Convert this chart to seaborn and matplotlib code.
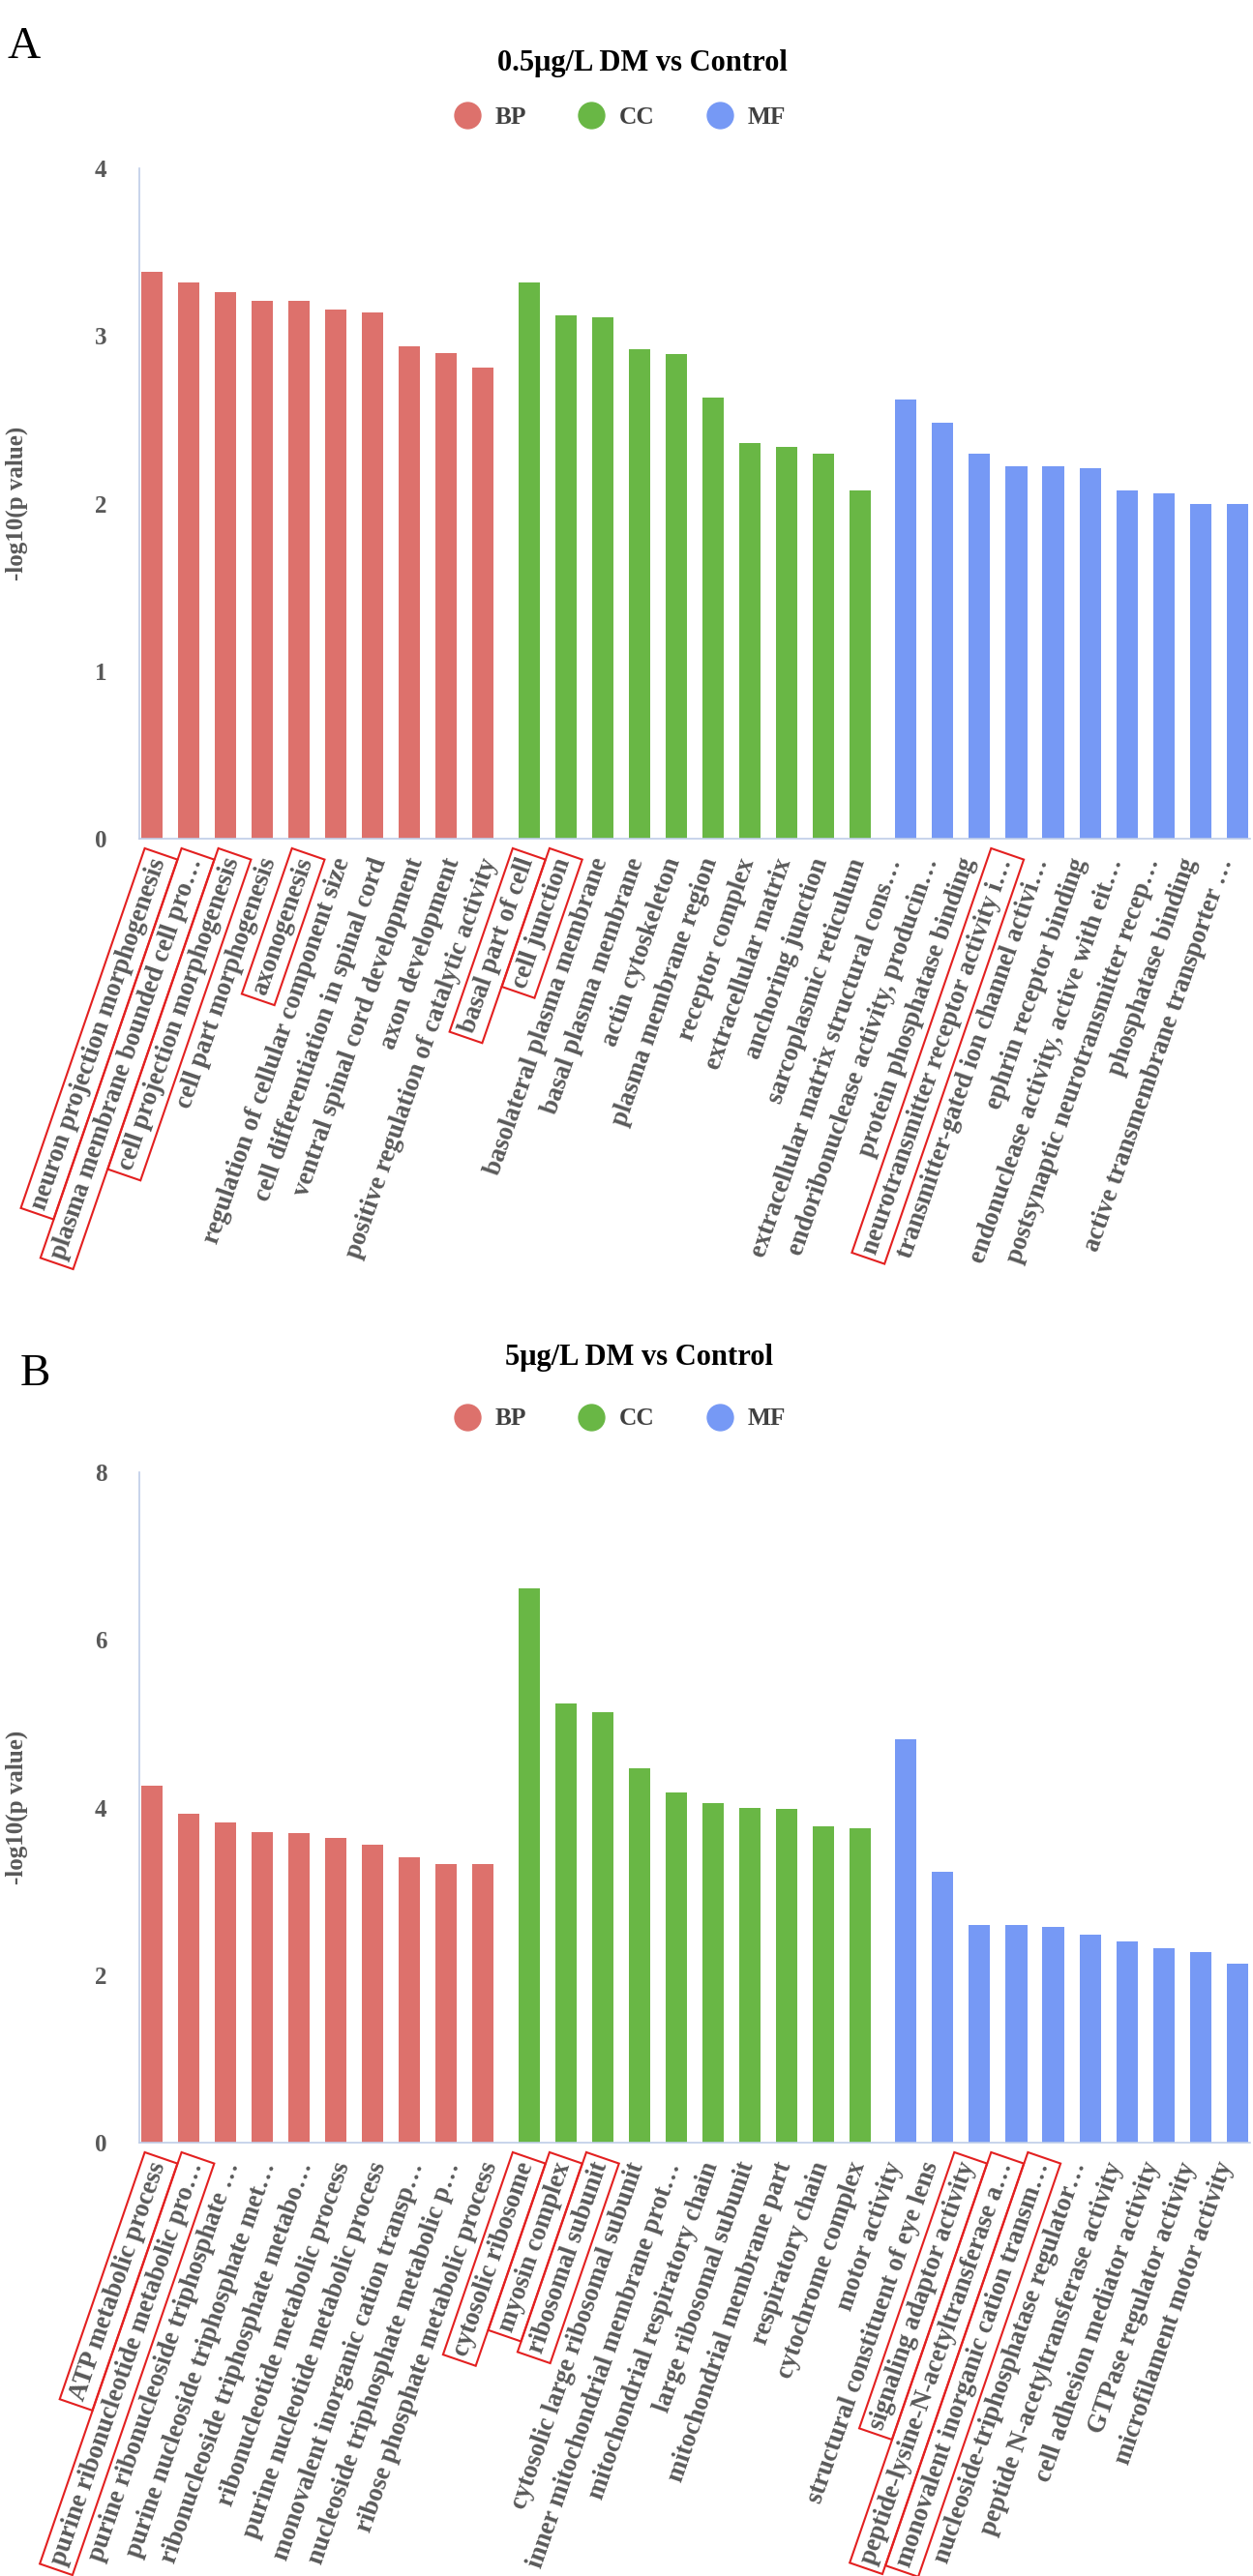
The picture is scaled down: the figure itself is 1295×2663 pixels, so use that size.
import numpy as np
import pandas as pd
import matplotlib
matplotlib.use("Agg")
import matplotlib.pyplot as plt
from matplotlib.lines import Line2D
import seaborn as sns

# ---------------- data ----------------
groups = ["BP", "CC", "MF"]
group_colors = {"BP": "#DD716C", "CC": "#69B745", "MF": "#7699F5"}

a_bp_terms = ["neuron projection morphogenesis", "plasma membrane bounded cell pro…",
              "cell projection morphogenesis", "cell part morphogenesis", "axonogenesis",
              "regulation of cellular component size", "cell differentiation in spinal cord",
              "ventral spinal cord development", "axon development",
              "positive regulation of catalytic activity"]
a_bp_vals = [3.38, 3.32, 3.26, 3.21, 3.21, 3.16, 3.14, 2.94, 2.90, 2.81]
a_cc_terms = ["basal part of cell", "cell junction", "basolateral plasma membrane",
              "basal plasma membrane", "actin cytoskeleton", "plasma membrane region",
              "receptor complex", "extracellular matrix", "anchoring junction",
              "sarcoplasmic reticulum"]
a_cc_vals = [3.32, 3.12, 3.11, 2.92, 2.89, 2.63, 2.36, 2.34, 2.30, 2.08]
a_mf_terms = ["extracellular matrix structural cons…", "endoribonuclease activity, producin…",
              "protein phosphatase binding", "neurotransmitter receptor activity i…",
              "transmitter-gated ion channel activi…", "ephrin receptor binding",
              "endonuclease activity, active with eit…", "postsynaptic neurotransmitter recep…",
              "phosphatase binding", "active transmembrane transporter …"]
a_mf_vals = [2.62, 2.48, 2.30, 2.22, 2.22, 2.21, 2.08, 2.06, 2.00, 2.00]
a_highlight = ["neuron projection morphogenesis", "plasma membrane bounded cell pro…",
               "cell projection morphogenesis", "axonogenesis", "basal part of cell",
               "cell junction", "neurotransmitter receptor activity i…"]

b_bp_terms = ["ATP metabolic process", "purine ribonucleotide metabolic pro…",
              "purine ribonucleoside triphosphate …", "purine nucleoside triphosphate met…",
              "ribonucleoside triphosphate metabo…", "ribonucleotide metabolic process",
              "purine nucleotide metabolic process", "monovalent inorganic cation transp…",
              "nucleoside triphosphate metabolic p…", "ribose phosphate metabolic process"]
b_bp_vals = [4.26, 3.93, 3.82, 3.71, 3.69, 3.64, 3.56, 3.41, 3.33, 3.33]
b_cc_terms = ["cytosolic ribosome", "myosin complex", "ribosomal subunit",
              "cytosolic large ribosomal subunit", "inner mitochondrial membrane prot…",
              "mitochondrial respiratory chain", "large ribosomal subunit",
              "mitochondrial membrane part", "respiratory chain", "cytochrome complex"]
b_cc_vals = [6.62, 5.24, 5.14, 4.47, 4.18, 4.05, 4.00, 3.98, 3.77, 3.75]
b_mf_terms = ["motor activity", "structural constituent of eye lens",
              "signaling adaptor activity", "peptide-lysine-N-acetyltransferase a…",
              "monovalent inorganic cation transm…", "nucleoside-triphosphatase regulator…",
              "peptide N-acetyltransferase activity", "cell adhesion mediator activity",
              "GTPase regulator activity", "microfilament motor activity"]
b_mf_vals = [4.81, 3.23, 2.60, 2.60, 2.58, 2.48, 2.40, 2.32, 2.27, 2.14]
b_highlight = ["ATP metabolic process", "purine ribonucleotide metabolic pro…",
               "cytosolic ribosome", "myosin complex", "ribosomal subunit",
               "signaling adaptor activity", "peptide-lysine-N-acetyltransferase a…",
               "monovalent inorganic cation transm…"]

titles = ["0.5μg/L DM vs Control", "5μg/L DM vs Control"]
panel_letters = ["A", "B"]
y_max = [4, 8]
y_step = [1, 2]


def build_df(terms_list, vals_list):
    rows = []
    idx = 0
    for gi, (g, terms, vals) in enumerate(zip(groups, terms_list, vals_list)):
        for t, v in zip(terms, vals):
            rows.append({"term": t, "value": v, "group": g,
                         "pos": idx + 0.25 * gi, "idx": idx})
            idx += 1
    return pd.DataFrame(rows)


dfs = [build_df([a_bp_terms, a_cc_terms, a_mf_terms], [a_bp_vals, a_cc_vals, a_mf_vals]),
       build_df([b_bp_terms, b_cc_terms, b_mf_terms], [b_bp_vals, b_cc_vals, b_mf_vals])]
highlights = [a_highlight, b_highlight]

# ---------------- style ----------------
sns.set_style("white")
serif = ["Liberation Serif", "DejaVu Serif"]
plt.rcParams["font.family"] = serif

W, H = 1295, 2663
fig = plt.figure(figsize=(W / 100, H / 100), dpi=100)

label_gray = "#595959"
spine_col = "#BFCDE8"

ax_left = 144 / W
ax_width = (1292 - 144) / W
ax_tops = [174, 1522]
ax_bottoms = [867, 2215]

for p in range(2):
    df = dfs[p]
    ax = fig.add_axes([ax_left, 1 - ax_bottoms[p] / H, ax_width,
                       (ax_bottoms[p] - ax_tops[p]) / H])
    sns.barplot(data=df, x="pos", y="value", hue="group", palette=group_colors,
                native_scale=True, dodge=False, width=0.58, saturation=1,
                legend=False, ax=ax, linewidth=0)
    ax.set_xlim(-0.335, df["pos"].max() + 0.35)
    ax.set_ylim(0, y_max[p])
    yt = np.arange(0, y_max[p] + 0.01, y_step[p])
    ax.set_yticks(yt)
    ax.set_yticklabels([str(int(v)) for v in yt], fontsize=18, fontweight="bold",
                       color=label_gray)
    ax.tick_params(axis="y", length=0, pad=24)
    # category labels are evenly spaced along the axis (no group gap), as in the reference
    ax.set_xticks(df["idx"].values + 0.21)
    ax.set_xticklabels(df["term"].values, rotation=71, ha="right", va="center",
                       rotation_mode="anchor", fontsize=19.3, fontweight="bold",
                       color=label_gray)
    ax.tick_params(axis="x", length=0, pad=15)
    for lbl in ax.get_xticklabels():
        if lbl.get_text() in highlights[p]:
            lbl.set_bbox(dict(boxstyle="square,pad=0.2", fc="none", ec="#E32020", lw=1.5))
    ax.set_xlabel("")
    ax.set_ylabel("-log10(p value)", fontsize=18, fontweight="bold", color=label_gray)
    ax.yaxis.label.set_verticalalignment("center")
    ax.yaxis.set_label_coords((17 - 144) / (1292 - 144), 0.5)
    for s in ["top", "right"]:
        ax.spines[s].set_visible(False)
    for s in ["left", "bottom"]:
        ax.spines[s].set_color(spine_col)
        ax.spines[s].set_linewidth(1.2)

    # title, legend, panel letter
    title_x = [664, 660][p]
    title_base = [73, 1411][p]
    fig.text(title_x / W, 1 - title_base / H, titles[p], ha="center", va="baseline",
             fontsize=22, fontweight="bold", color="black")
    leg_y = [121, 1467][p]
    handles = [Line2D([], [], marker="o", ls="", markersize=19.4,
                      markerfacecolor=group_colors[g], markeredgecolor=group_colors[g])
               for g in groups]
    fig.legend(handles, groups, loc="center", bbox_to_anchor=(641 / W, 1 - leg_y / H),
               ncol=3, frameon=False, handlelength=1.0, handletextpad=0.63,
               columnspacing=2.15, borderpad=0,
               prop={"family": serif, "weight": "bold", "size": 18.3},
               labelcolor="#404040")
    letter_xy = [(25, 49), (36, 1421)][p]
    fig.text(letter_xy[0] / W, 1 - letter_xy[1] / H, panel_letters[p], ha="center",
             va="center", fontsize=34, color="black")

fig.savefig("out.png", dpi=100, facecolor="white")
